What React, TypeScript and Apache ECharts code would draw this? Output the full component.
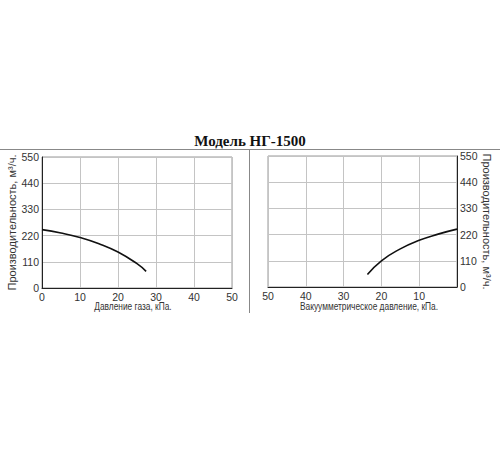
import { useRef, useEffect } from "react";
import * as echarts from "echarts";

// левый график: давление газа, кПа -> производительность, м³/ч
const gasPressure = [0, 5, 10, 15, 20, 25, 27.4];
const gasFlow = [245, 231, 212, 186, 151, 102, 70];

// правый график: вакуумметрическое давление, кПа -> производительность
const vacuumPressure = [23.7, 20, 15, 10, 5, 0];
const vacuumFlow = [52, 110, 160, 196, 222, 243];

const flowTicks = [0, 110, 220, 330, 440, 550];
const pressureTicks = [0, 10, 20, 30, 40, 50];

const font = "Liberation Sans";
const labelColor = "#333";
const gridColor = "#c4c4c4";

const xAxisBase = {
  type: "value",
  min: pressureTicks[0],
  max: pressureTicks[pressureTicks.length - 1],
  interval: pressureTicks[1] - pressureTicks[0],
  axisLine: { lineStyle: { color: "#222", width: 1 } },
  axisTick: { show: false },
  axisLabel: { fontFamily: font, fontSize: 10.5, color: labelColor, margin: 3 },
  splitLine: { lineStyle: { color: gridColor, width: 1 } },
};

const yAxisBase = {
  type: "value",
  min: flowTicks[0],
  max: flowTicks[flowTicks.length - 1],
  interval: flowTicks[1] - flowTicks[0],
  nameLocation: "middle",
  nameTextStyle: { fontFamily: font, fontSize: 11, color: labelColor },
  axisLine: { show: true, lineStyle: { color: "#222", width: 1 } },
  axisTick: { show: false },
  axisLabel: { fontFamily: font, fontSize: 10.5, color: labelColor, margin: 3 },
  splitLine: { lineStyle: { color: gridColor, width: 1 } },
};

// подписи осей X в исходнике набраны узким шрифтом — сжимаем по горизонтали
const xName = (text: string, x: number) => ({
  type: "text",
  x,
  y: 306,
  scaleX: 0.76,
  style: {
    text,
    fontFamily: font,
    fontSize: 11,
    fill: labelColor,
    textAlign: "center",
    textVerticalAlign: "middle",
  },
});

const option = {
  animation: false,
  backgroundColor: "#fff",
  title: {
    text: "Модель НГ-1500",
    left: "center",
    top: 128,
    textStyle: {
      fontFamily: "Liberation Serif",
      fontWeight: "bold",
      fontSize: 15,
      color: "#111",
    },
  },
  grid: [
    { left: 42, top: 157, width: 190, height: 131, show: true, borderColor: "#999", borderWidth: 1 },
    { left: 268, top: 156, width: 189, height: 131, show: true, borderColor: "#999", borderWidth: 1 },
  ],
  xAxis: [
    { ...xAxisBase, gridIndex: 0 },
    {
      ...xAxisBase,
      gridIndex: 1,
      inverse: true,
      axisLabel: {
        ...xAxisBase.axisLabel,
        formatter: (v: number) => (v === 0 ? "" : String(v)),
      },
    },
  ],
  yAxis: [
    { ...yAxisBase, gridIndex: 0, name: "Производительность, м³/ч.", nameGap: 20 },
    {
      ...yAxisBase,
      gridIndex: 1,
      position: "right",
      name: "Производительность, м³/ч.",
      nameGap: 20,
      nameRotate: -90,
    },
  ],
  graphic: [
    { type: "line", shape: { x1: 0, y1: 149.5, x2: 500, y2: 149.5 }, style: { stroke: "#888", lineWidth: 1 } },
    { type: "line", shape: { x1: 249.5, y1: 149.5, x2: 249.5, y2: 313 }, style: { stroke: "#888", lineWidth: 1 } },
    xName("Давление газа, кПа.", 133),
    xName("Вакуумметрическое давление, кПа.", 369),
  ],
  series: [
    {
      type: "line",
      xAxisIndex: 0,
      yAxisIndex: 0,
      smooth: true,
      showSymbol: false,
      lineStyle: { color: "#111", width: 1.6 },
      data: gasPressure.map((p, i) => [p, gasFlow[i]]),
    },
    {
      type: "line",
      xAxisIndex: 1,
      yAxisIndex: 1,
      smooth: true,
      showSymbol: false,
      lineStyle: { color: "#111", width: 1.6 },
      data: vacuumPressure.map((p, i) => [p, vacuumFlow[i]]),
    },
  ],
};

const App = () => {
  const chartRef = useRef<HTMLDivElement>(null);

  useEffect(() => {
    const myChart = echarts.init(chartRef.current, null, { renderer: "svg" });
    myChart.setOption(option as any);
    return () => {
      myChart.dispose();
    };
  }, []);

  return (
    <div
      ref={chartRef}
      style={{ position: "fixed", left: 0, top: 0, width: "500px", height: "450px" }}
    ></div>
  );
};

export default App;
